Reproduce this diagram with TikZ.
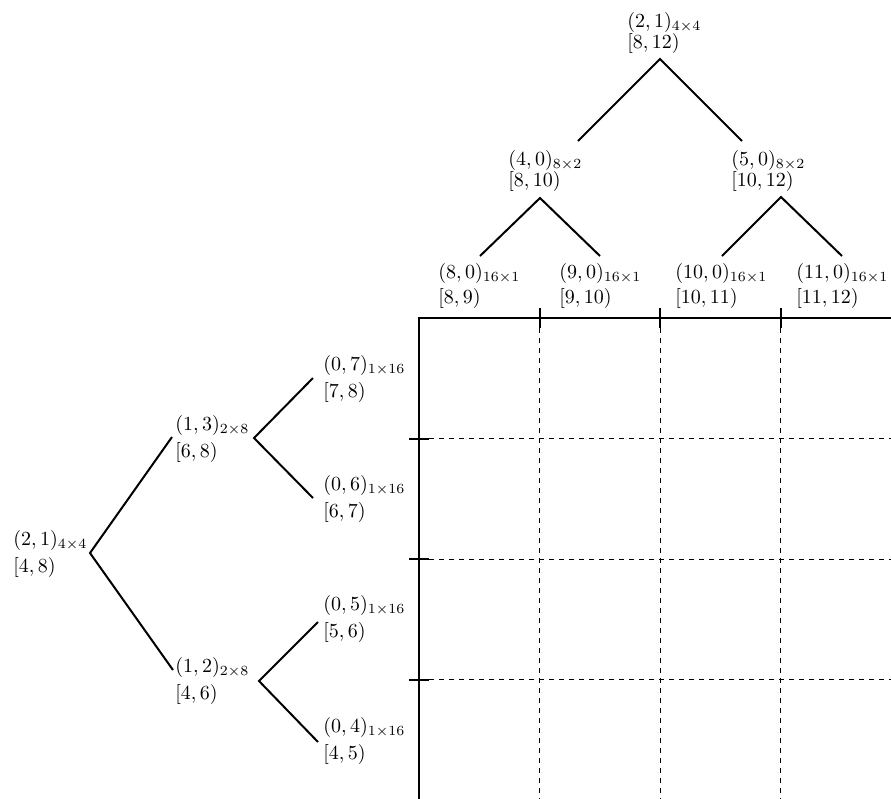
\documentclass[tikz,border=0pt]{standalone}
\begin{document}
\begin{tikzpicture}[x=0.5pt,y=-0.5pt,
  lab/.style={anchor=north west,inner sep=0pt,align=left,font=\fontsize{10}{13.5}\selectfont},
  labtop/.style={lab,font=\fontsize{10}{10.5}\selectfont},
  lableaf/.style={lab,font=\fontsize{10}{12.5}\selectfont},
  branch/.style={line width=1pt},
  border/.style={line width=1pt},
  cell/.style={line width=0.5pt,dash pattern=on 2.3pt off 2.7pt},
  tickmark/.style={line width=1pt}]
\useasboundingbox (0,0) rectangle (891,799);
\clip (0,0) rectangle (891,799);

% ---- column tree (top) ----
\node[labtop] (c21) at (627,12) {$(2,1)_{4\times 4}$\\$[8,12)$};
\node[labtop] (c40) at (508,150) {$(4,0)_{8\times 2}$\\$[8,10)$};
\node[labtop] (c50) at (731,150) {$(5,0)_{8\times 2}$\\$[10,12)$};
\node[lableaf] (c80) at (438,263) {$(8,0)_{16\times 1}$\\$[8,9)$};
\node[lableaf] (c90) at (559,263) {$(9,0)_{16\times 1}$\\$[9,10)$};
\node[lableaf] (c100) at (675,263) {$(10,0)_{16\times 1}$\\$[10,11)$};
\node[lableaf] (c110) at (796,263) {$(11,0)_{16\times 1}$\\$[11,12)$};

\coordinate (c21b) at (660,59);
\coordinate (c40t) at (578,141);
\coordinate (c50t) at (742,141);
\coordinate (c40b) at (540,198);
\coordinate (c80t) at (480,256);
\coordinate (c90t) at (600,256);
\coordinate (c50b) at (781,197);
\coordinate (c100t) at (722,256);
\coordinate (c110t) at (842,256);

\draw[branch] (c40t) -- (c21b) -- (c50t);
\draw[branch] (c80t) -- (c40b) -- (c90t);
\draw[branch] (c100t) -- (c50b) -- (c110t);

% ---- row tree (left) ----
\node[lab] (r21) at (13,530) {$(2,1)_{4\times 4}$\\$[4,8)$};
\node[lab] (r13) at (175,415) {$(1,3)_{2\times 8}$\\$[6,8)$};
\node[lab] (r12) at (175,657) {$(1,2)_{2\times 8}$\\$[4,6)$};
\node[lab] (r07) at (323,355) {$(0,7)_{1\times 16}$\\$[7,8)$};
\node[lab] (r06) at (323,475) {$(0,6)_{1\times 16}$\\$[6,7)$};
\node[lab] (r05) at (323,595) {$(0,5)_{1\times 16}$\\$[5,6)$};
\node[lab] (r04) at (323,717) {$(0,4)_{1\times 16}$\\$[4,5)$};

\coordinate (r21b) at (90,553);
\coordinate (r13t) at (172,437);
\coordinate (r12t) at (173,670);
\coordinate (r13b) at (254,438);
\coordinate (r07t) at (313,378);
\coordinate (r06t) at (313,498);
\coordinate (r12b) at (259,681);
\coordinate (r05t) at (318,622);
\coordinate (r04t) at (318,742);

\draw[branch] (r13t) -- (r21b) -- (r12t);
\draw[branch] (r07t) -- (r13b) -- (r06t);
\draw[branch] (r05t) -- (r12b) -- (r04t);

% ---- block grid ----
\coordinate (g00) at (419,318);
\foreach \k/\p in {1/539.5,2/660,3/780.5}{
  \draw[cell] (\p,318) -- (\p,799);
  \draw[tickmark] (\p,308) -- (\p,328);
}
\foreach \k/\p in {1/438.5,2/559,3/679.5}{
  \draw[cell] (419,\p) -- (891,\p);
  \draw[tickmark] (409,\p) -- (429,\p);
}
\draw[border] (419,799) -- (g00) -- (891,318);
\end{tikzpicture}
\end{document}
